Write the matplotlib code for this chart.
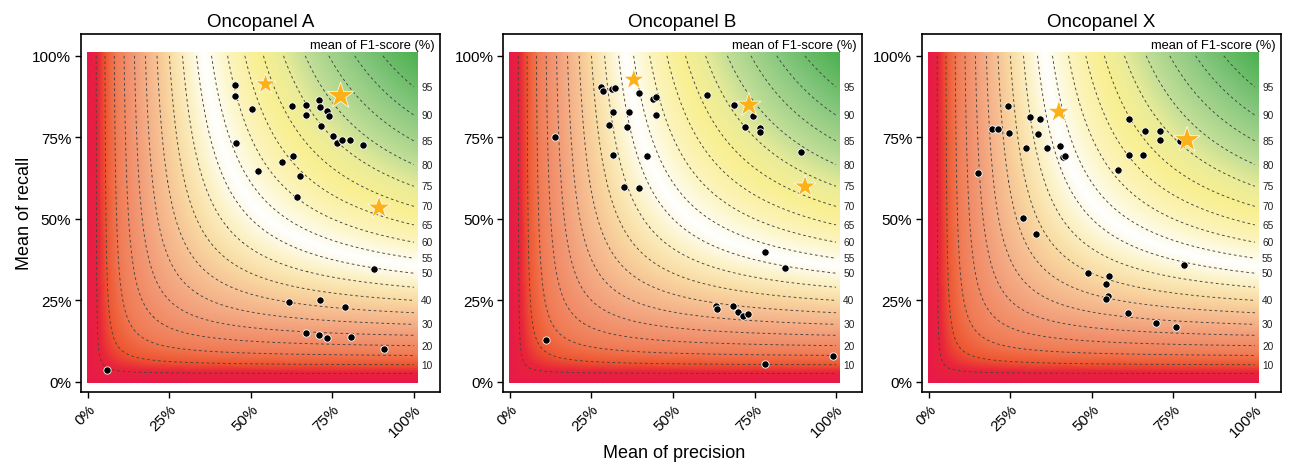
import numpy as np
import matplotlib
matplotlib.use("Agg")
import matplotlib.pyplot as plt
from matplotlib.colors import LinearSegmentedColormap

plt.rcParams['font.family'] = ['Liberation Sans', 'DejaVu Sans']

# panel titles
titles = ["Oncopanel A", "Oncopanel B", "Oncopanel X"]

# mean precision / recall of each pipeline (fractions)
prec_a = [0.451, 0.451, 0.504, 0.625, 0.668, 0.668, 0.709, 0.712, 0.732, 0.739, 0.715,
          0.751, 0.765, 0.778, 0.804, 0.845, 0.455, 0.594, 0.629, 0.521, 0.651, 0.641,
          0.877, 0.618, 0.712, 0.788, 0.670, 0.709, 0.733, 0.807, 0.908, 0.060]
rec_a = [0.911, 0.877, 0.838, 0.847, 0.849, 0.819, 0.866, 0.842, 0.830, 0.815, 0.786,
         0.754, 0.734, 0.743, 0.741, 0.727, 0.734, 0.673, 0.692, 0.647, 0.630, 0.566,
         0.346, 0.245, 0.252, 0.231, 0.150, 0.145, 0.135, 0.137, 0.102, 0.037]

prec_b = [0.278, 0.286, 0.313, 0.323, 0.396, 0.440, 0.449, 0.449, 0.317, 0.364, 0.304,
          0.360, 0.317, 0.421, 0.351, 0.396, 0.137, 0.604, 0.688, 0.744, 0.721, 0.768,
          0.768, 0.894, 0.783, 0.845, 0.631, 0.635, 0.683, 0.700, 0.716, 0.731, 0.111,
          0.783, 0.990]
rec_b = [0.903, 0.892, 0.897, 0.901, 0.885, 0.867, 0.875, 0.820, 0.829, 0.829, 0.787,
         0.781, 0.695, 0.694, 0.599, 0.596, 0.751, 0.880, 0.850, 0.816, 0.782, 0.779,
         0.767, 0.706, 0.397, 0.348, 0.234, 0.223, 0.234, 0.213, 0.201, 0.209, 0.130,
         0.054, 0.079]

prec_x = [0.242, 0.193, 0.211, 0.247, 0.309, 0.342, 0.334, 0.297, 0.362, 0.403, 0.413,
          0.418, 0.151, 0.289, 0.329, 0.614, 0.664, 0.708, 0.708, 0.769, 0.615, 0.657,
          0.581, 0.783, 0.489, 0.552, 0.544, 0.549, 0.542, 0.612, 0.698, 0.758]
rec_x = [0.846, 0.775, 0.775, 0.763, 0.813, 0.805, 0.759, 0.717, 0.717, 0.725, 0.690,
         0.692, 0.640, 0.504, 0.454, 0.805, 0.771, 0.771, 0.742, 0.740, 0.696, 0.696,
         0.650, 0.358, 0.333, 0.325, 0.300, 0.264, 0.255, 0.212, 0.180, 0.167]

# highlighted pipelines (stars)
star_prec_a = [0.545, 0.775, 0.893]
star_rec_a = [0.913, 0.877, 0.534]
star_prec_b = [0.380, 0.733, 0.905]
star_rec_b = [0.927, 0.849, 0.599]
star_prec_x = [0.399, 0.792]
star_rec_x = [0.828, 0.742]

points = [(prec_a, rec_a), (prec_b, rec_b), (prec_x, rec_x)]
stars = [(star_prec_a, star_rec_a), (star_prec_b, star_rec_b), (star_prec_x, star_rec_x)]
star_sizes = [[230, 400, 290], [250, 330, 270], [280, 380]]

# iso-F1 lines
f1_levels = [0.05, 0.10, 0.15, 0.20, 0.25, 0.30, 0.35, 0.40, 0.45, 0.50,
             0.55, 0.60, 0.65, 0.70, 0.75, 0.80, 0.85, 0.90, 0.95]
f1_labels = [10, 20, 30, 40, 50, 55, 60, 65, 70, 75, 80, 85, 90, 95]

cmap = LinearSegmentedColormap.from_list("f1", [
    (0.00, "#e8194a"), (0.06, "#e8243a"), (0.10, "#ee5530"), (0.16, "#f07c56"),
    (0.25, "#f29c78"), (0.33, "#f6bd90"), (0.40, "#f9dca4"), (0.46, "#fcf2c6"),
    (0.52, "#ffffff"), (0.60, "#fcf4bc"), (0.68, "#f9ef92"), (0.74, "#eaec98"),
    (0.80, "#bfdd96"), (0.90, "#86c77e"), (1.00, "#4cb050")])

g = np.linspace(0.0, 1.0, 401)
P, R = np.meshgrid(g, g)
with np.errstate(invalid="ignore", divide="ignore"):
    F1 = np.where(P + R > 0, 2 * P * R / (P + R), 0.0)

fig = plt.figure(figsize=(12.9, 4.64), dpi=100)
lefts = [0.0628, 0.390, 0.7147]

for i in range(3):
    ax = fig.add_axes([lefts[i], 0.153, 0.2783, 0.7716])
    ax.imshow(F1, origin="lower", extent=(-0.003, 1.01, -0.003, 1.01), cmap=cmap,
              vmin=0, vmax=1, interpolation="bilinear", aspect="auto", zorder=0)
    ax.contour(P, R, F1, levels=f1_levels, colors="#444444", linewidths=0.65,
               linestyles=[(0, (3, 3))], zorder=1)
    for lab in f1_labels:
        f = lab / 100
        ax.text(1.022, f / (2 - f), str(lab), fontsize=7.3, ha="left", va="center",
                color="#222222")
    px, ry = points[i]
    ax.scatter(px, ry, s=28, c="black", edgecolors="white", linewidths=0.6, zorder=3)
    sx, sy = stars[i]
    ax.scatter(sx, sy, s=star_sizes[i], marker="*", c="#fbb117", edgecolors="white",
               linewidths=0.5, zorder=4)
    ax.text(0.985, 0.985, "mean of F1-score (%)", transform=ax.transAxes, fontsize=9.3,
            ha="right", va="top")
    ax.set_xlim(-0.021, 1.08)
    ax.set_ylim(-0.031, 1.067)
    ticks = [0, 0.25, 0.5, 0.75, 1.0]
    ticklabels = ["0%", "25%", "50%", "75%", "100%"]
    ax.set_xticks(ticks)
    ax.set_xticklabels(ticklabels, rotation=45, ha="right", va="top",
                       rotation_mode="anchor", fontsize=11)
    ax.set_yticks(ticks)
    ax.set_yticklabels(ticklabels, fontsize=11)
    ax.tick_params(length=4, width=1, color="black", pad=3)
    for sp in ax.spines.values():
        sp.set_linewidth(1.2)
    ax.set_title(titles[i], fontsize=13.5, pad=6)

fig.text(0.019, 0.54, "Mean of recall", rotation=90, ha="center", va="center", fontsize=13)
fig.text(0.5225, 0.022, "Mean of precision", ha="center", va="center", fontsize=13)

fig.savefig("out.png", dpi=100)
